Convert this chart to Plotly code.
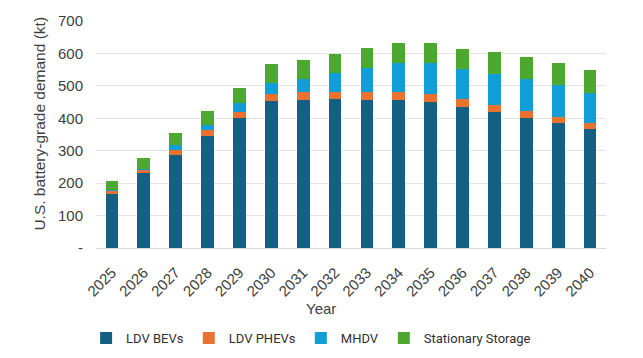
import plotly.graph_objects as go

years = [str(y) for y in range(2025, 2041)]
ldv_bevs = [168, 230, 288, 345, 400, 453, 457, 458, 457, 455, 451, 435, 418, 402, 384, 366]
ldv_phevs = [10, 12, 15, 18, 19, 23, 24, 24, 25, 25, 24, 23, 22, 20, 20, 19]
mhdv = [1, 1, 15, 17, 27, 34, 40, 59, 74, 89, 94, 93, 97, 99, 99, 94]
storage = [27, 36, 37, 43, 48, 56, 58, 56, 60, 63, 64, 64, 66, 68, 69, 70]
y_ticks = [0, 100, 200, 300, 400, 500, 600, 700]
y_ticktext = ["-", "100", "200", "300", "400", "500", "600", "700"]

names = ["LDV BEVs", "LDV PHEVs", "MHDV", "Stationary Storage"]
colors = ["#156082", "#E97132", "#0F9ED5", "#4EA72E"]
series = [ldv_bevs, ldv_phevs, mhdv, storage]

fig = go.Figure()
for n, c, v in zip(names, colors, series):
    fig.add_trace(go.Bar(x=years, y=v, name=n, marker=dict(color=c, line=dict(width=0))))

font = "Liberation Sans"
fig.update_layout(
    barmode="stack",
    bargap=0.6,
    width=635, height=350,
    margin=dict(l=88, r=37, t=13, b=110),
    plot_bgcolor="white", paper_bgcolor="white",
    font=dict(family=font, size=15, color="#404040"),
    showlegend=True,
    legend=dict(orientation="h", xref="container", x=0.123, xanchor="left",
                yref="container", y=0.057, yanchor="middle",
                font=dict(family="Roboto, Liberation Sans", size=13, color="#303030"),
                traceorder="normal", itemwidth=30, tracegroupgap=0),
    xaxis=dict(tickangle=-45, tickfont=dict(size=15), showline=True, automargin=False,
               ticklabelstandoff=9,
               linecolor="#d9d9d9", linewidth=1, ticks=""),
    yaxis=dict(range=[0, 700], tickvals=y_ticks, ticktext=y_ticktext,
               automargin=False, ticklabelstandoff=12,
               tickfont=dict(size=15), gridcolor="#e3e3e3", zeroline=False, showline=False),
    annotations=[
        dict(text="Year", xref="paper", yref="paper", x=0.441, y=0, yshift=-60,
             xanchor="center", yanchor="middle", showarrow=False, font=dict(size=15)),
        dict(text="U.S. battery-grade demand (kt)", xref="paper", yref="paper", x=0, xshift=-56,
             y=0.548, xanchor="center", yanchor="middle", textangle=-90, showarrow=False,
             font=dict(size=15.5)),
    ],
)
fig.write_html("out.html")
